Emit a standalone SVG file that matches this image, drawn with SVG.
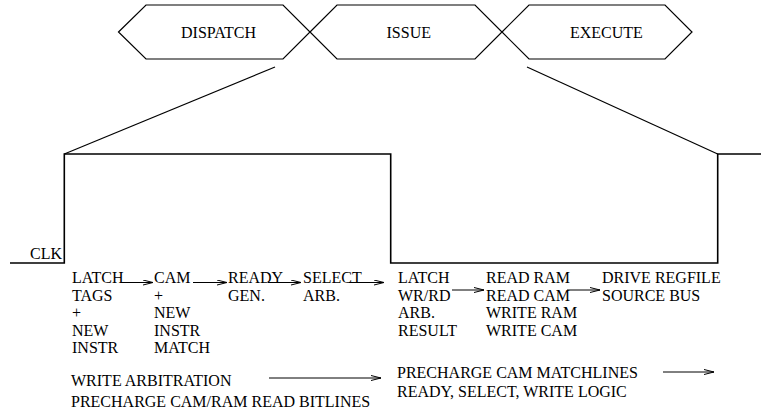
<svg xmlns="http://www.w3.org/2000/svg" width="761" height="414" viewBox="0 0 761 414">
  <style>
    text { font-family: "Liberation Serif", "Times New Roman", serif; font-size: 16px; fill: #000; }
    .stage { fill: none; stroke: #000; stroke-width: 1.2; }
    .wave { fill: none; stroke: #000; stroke-width: 1.6; }
    .lead { fill: none; stroke: #000; stroke-width: 1.2; }
    .arrow { fill: none; stroke: #000; stroke-width: 1; marker-end: url(#head); }
  </style>
  <defs>
    <marker id="head" viewBox="0 0 10 6" refX="10" refY="3" markerWidth="10" markerHeight="6" markerUnits="userSpaceOnUse" orient="auto">
      <path d="M0,0.5 L10,3 L0,5.5" fill="none" stroke="#000" stroke-width="1"/>
    </marker>
  </defs>

  <rect width="761" height="414" fill="#fff"/>

  <!-- pipeline stages -->
  <g id="dispatch">
    <polygon class="stage" points="118.5,32 146,5 283,5 310,32 283,59 146,59"/>
    <text x="181" y="37.5">DISPATCH</text>
  </g>
  <g id="issue">
    <polygon class="stage" points="310,32 337,5 475,5 502,32 475,59 337,59"/>
    <text x="386.5" y="37.5">ISSUE</text>
  </g>
  <g id="execute">
    <polygon class="stage" points="502,32 529,5 665,5 692,32 665,59 529,59"/>
    <text x="570" y="37.5">EXECUTE</text>
  </g>

  <!-- clock waveform -->
  <g id="clock">
    <path class="wave" d="M10,263 H64.3 V154 H390.7 V263 H717.7 V154 H761"/>
    <text x="62" y="259" text-anchor="end">CLK</text>
  </g>

  <!-- stage-to-clock leader lines -->
  <g id="leaders">
    <line class="lead" x1="275" y1="67" x2="64.3" y2="154"/>
    <line class="lead" x1="527" y1="67" x2="717.7" y2="154"/>
  </g>

  <!-- operations within the cycle -->
  <g id="latch-tags">
    <text x="72" y="283">LATCH</text>
    <text x="72" y="300.5">TAGS</text>
    <text x="72" y="318">+</text>
    <text x="72" y="335.5">NEW</text>
    <text x="72" y="353">INSTR</text>
  </g>
  <g id="cam-match">
    <text x="154" y="283">CAM</text>
    <text x="154" y="300.5">+</text>
    <text x="154" y="318">NEW</text>
    <text x="154" y="335.5">INSTR</text>
    <text x="154" y="353">MATCH</text>
  </g>
  <g id="ready-gen">
    <text x="228" y="283">READY</text>
    <text x="228" y="300.5">GEN.</text>
  </g>
  <g id="select-arb">
    <text x="303" y="283">SELECT</text>
    <text x="303" y="300.5">ARB.</text>
  </g>
  <g id="latch-result">
    <text x="398" y="283">LATCH</text>
    <text x="398" y="300.5">WR/RD</text>
    <text x="398" y="318">ARB.</text>
    <text x="398" y="335.5">RESULT</text>
  </g>
  <g id="ram-cam">
    <text x="486" y="283">READ RAM</text>
    <text x="486" y="300.5">READ CAM</text>
    <text x="486" y="318">WRITE RAM</text>
    <text x="486" y="335.5">WRITE CAM</text>
  </g>
  <g id="regfile">
    <text x="602" y="283">DRIVE REGFILE</text>
    <text x="602" y="300.5">SOURCE BUS</text>
  </g>

  <!-- precharge phases -->
  <g id="write-arb">
    <text x="71" y="386">WRITE ARBITRATION</text>
    <text x="71" y="407">PRECHARGE CAM/RAM READ BITLINES</text>
  </g>
  <g id="precharge-match">
    <text x="397" y="378">PRECHARGE CAM MATCHLINES</text>
    <text x="397" y="397">READY, SELECT, WRITE LOGIC</text>
  </g>

  <!-- sequencing arrows -->
  <g id="connectors">
    <line class="arrow" x1="121" y1="282.5" x2="153" y2="282.5"/>
    <line class="arrow" x1="193" y1="282.5" x2="227" y2="282.5"/>
    <line class="arrow" x1="268" y1="282.5" x2="301" y2="282.5"/>
    <line class="arrow" x1="349" y1="282.5" x2="384" y2="282.5"/>
    <line class="arrow" x1="452" y1="290" x2="484" y2="290"/>
    <line class="arrow" x1="567" y1="290" x2="600" y2="290"/>
    <line class="arrow" x1="269" y1="378" x2="381" y2="378"/>
    <line class="arrow" x1="663" y1="372" x2="714" y2="372"/>
  </g>
</svg>
